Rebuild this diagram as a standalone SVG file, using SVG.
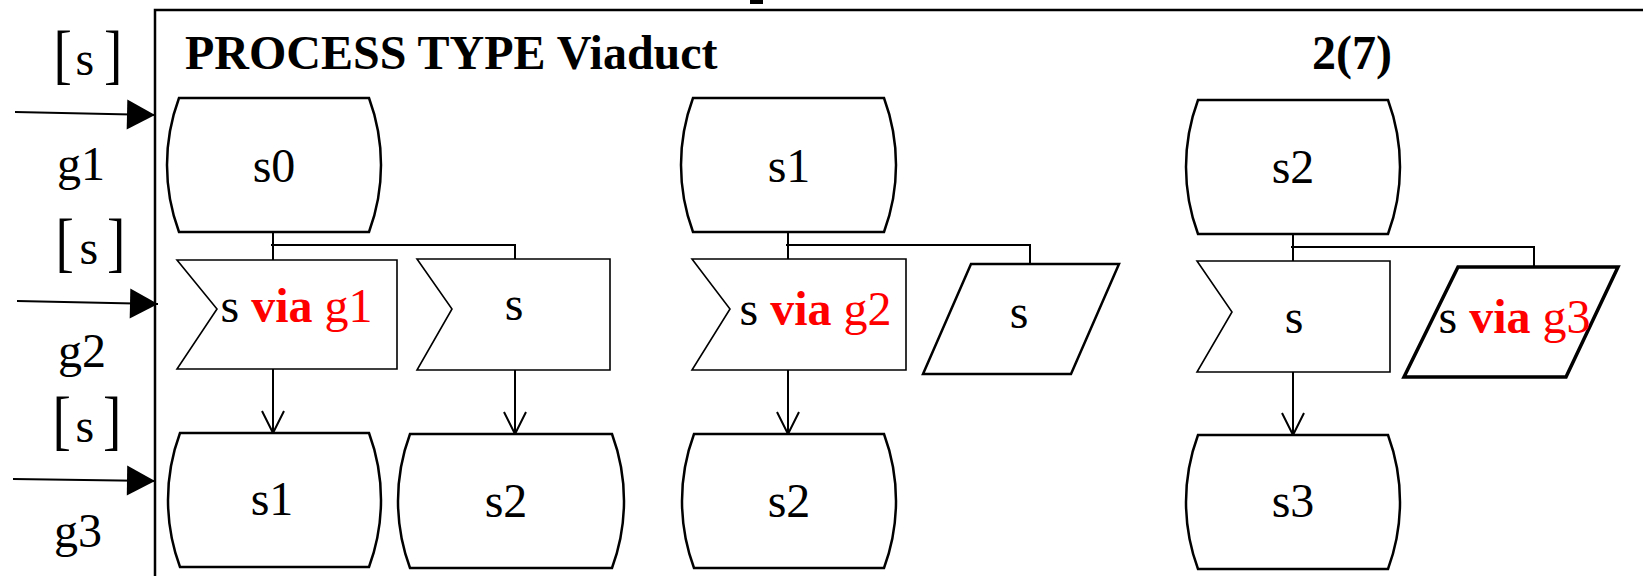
<svg xmlns="http://www.w3.org/2000/svg" width="1643" height="576" viewBox="0 0 1643 576">
<defs>
  <marker id="solid" markerUnits="userSpaceOnUse" markerWidth="30" markerHeight="32" refX="28" refY="15" orient="auto" overflow="visible">
    <path d="M0,0 L28,15 L0,30 Z" fill="#000"/>
  </marker>
  <marker id="open" markerUnits="userSpaceOnUse" markerWidth="24" markerHeight="24" refX="22" refY="11" orient="auto" overflow="visible">
    <path d="M0,0 L22,11 L0,22" fill="none" stroke="#000" stroke-width="2"/>
  </marker>
  <style>
    text { font-family: "Liberation Serif", "Times New Roman", serif; font-size: 48px; fill: #000; }
    .title { font-weight: bold; font-size: 48px; }
    .via { font-weight: bold; fill: #f00; }
    .red { fill: #f00; }
    .mid { text-anchor: middle; }
    .state { fill: #fff; stroke: #000; stroke-width: 2.5; }
    .sig { fill: #fff; stroke: #000; stroke-width: 1.6; }
    .out { fill: #fff; stroke: #000; stroke-width: 2.5; }
    .out2 { fill: #fff; stroke: #000; stroke-width: 3.5; }
    .frame { fill: none; stroke: #000; stroke-width: 2.5; }
    .wire { fill: none; stroke: #000; stroke-width: 2; }
    .gate { fill: none; stroke: #000; stroke-width: 2; marker-end: url(#solid); }
    .flow { fill: none; stroke: #000; stroke-width: 2; marker-end: url(#open); }
  </style>
</defs>

<!-- diagram frame -->
<g id="frame">
  <path class="frame" d="M155,576 V10 H1643"/>
  <rect x="750" y="0" width="13" height="4" fill="#000"/>
  <text class="title" x="185" y="69">PROCESS TYPE Viaduct</text>
  <text class="title" x="1312" y="69">2(7)</text>
</g>

<!-- gates with signal lists -->
<g id="gate-g1">
  <text transform="translate(53.5,75.6) scale(1.15,1.375)">[</text>
  <text x="75.6" y="75">s</text>
  <text transform="translate(104,75.6) scale(1.15,1.375)">]</text>
  <text x="57" y="180">g1</text>
</g>
<g id="gate-g2">
  <text transform="translate(55.5,263.6) scale(1.15,1.375)">[</text>
  <text x="79.6" y="264">s</text>
  <text transform="translate(107,263.6) scale(1.15,1.375)">]</text>
  <text x="58" y="367">g2</text>
</g>
<g id="gate-g3">
  <text transform="translate(52.5,442) scale(1.15,1.375)">[</text>
  <text x="75.6" y="442">s</text>
  <text transform="translate(103,442) scale(1.15,1.375)">]</text>
  <text x="54" y="547">g3</text>
</g>

<!-- connectors -->
<g id="connectors">
  <path class="gate" d="M15,112 L155,115"/>
  <path class="gate" d="M17,301 L158,304"/>
  <path class="gate" d="M13,479 L155,481"/>

  <path class="wire" d="M273,232 V260 M271,245 H515 V259"/>
  <path class="flow" d="M273,369 V433"/>
  <path class="flow" d="M515,370 V434"/>

  <path class="wire" d="M788,232 V259 M786,245 H1030 V264"/>
  <path class="flow" d="M788,370 V434"/>

  <path class="wire" d="M1293,234 V261 M1291,247 H1534 V267"/>
  <path class="flow" d="M1293,372 V435"/>
</g>

<!-- states, top row -->
<g id="state-s0">
  <path class="state" d="M179,98 H369 A193,193 0 0 1 369,232 H179 A193,193 0 0 1 179,98 Z"/>
  <text class="mid" x="274" y="182">s0</text>
</g>
<g id="state-s1">
  <path class="state" d="M693,98 H884 A193,193 0 0 1 884,232 H693 A193,193 0 0 1 693,98 Z"/>
  <text class="mid" x="789" y="182">s1</text>
</g>
<g id="state-s2">
  <path class="state" d="M1198,100 H1388 A193,193 0 0 1 1388,234 H1198 A193,193 0 0 1 1198,100 Z"/>
  <text class="mid" x="1293" y="183">s2</text>
</g>

<!-- signal inputs and outputs -->
<g id="input-s-via-g1">
  <path class="sig" d="M177,260 H397 V369 H177 L217,309 Z"/>
  <text x="220.5" y="322">s <tspan class="via">via</tspan><tspan class="red"> g1</tspan></text>
</g>
<g id="input-s-a">
  <path class="sig" d="M417,259 H610 V370 H417 L452,309 Z"/>
  <text class="mid" x="514" y="320">s</text>
</g>
<g id="input-s-via-g2">
  <path class="sig" d="M692,259 H906 V370 H692 L730,309 Z"/>
  <text x="739.5" y="325">s <tspan class="via">via</tspan><tspan class="red"> g2</tspan></text>
</g>
<g id="output-s">
  <path class="out" d="M971,264 H1119 L1071,374 H923 Z"/>
  <text class="mid" x="1019" y="328">s</text>
</g>
<g id="input-s-b">
  <path class="sig" d="M1197,261 H1390 V372 H1197 L1232,312 Z"/>
  <text class="mid" x="1294" y="333">s</text>
</g>
<g id="output-s-via-g3">
  <path class="out2" d="M1458,267 H1618 L1566,377 H1404 Z"/>
  <text x="1438.5" y="333">s <tspan class="via">via</tspan><tspan class="red"> g3</tspan></text>
</g>

<!-- states, bottom row -->
<g id="state-s1-next">
  <path class="state" d="M180,433 H369 A193,193 0 0 1 369,567 H180 A193,193 0 0 1 180,433 Z"/>
  <text class="mid" x="272" y="515">s1</text>
</g>
<g id="state-s2-next">
  <path class="state" d="M410,434 H612 A193,193 0 0 1 612,568 H410 A193,193 0 0 1 410,434 Z"/>
  <text class="mid" x="506" y="517">s2</text>
</g>
<g id="state-s2-next-b">
  <path class="state" d="M694,434 H884 A193,193 0 0 1 884,568 H694 A193,193 0 0 1 694,434 Z"/>
  <text class="mid" x="789" y="517">s2</text>
</g>
<g id="state-s3">
  <path class="state" d="M1198,435 H1388 A193,193 0 0 1 1388,569 H1198 A193,193 0 0 1 1198,435 Z"/>
  <text class="mid" x="1293" y="517">s3</text>
</g>
</svg>
